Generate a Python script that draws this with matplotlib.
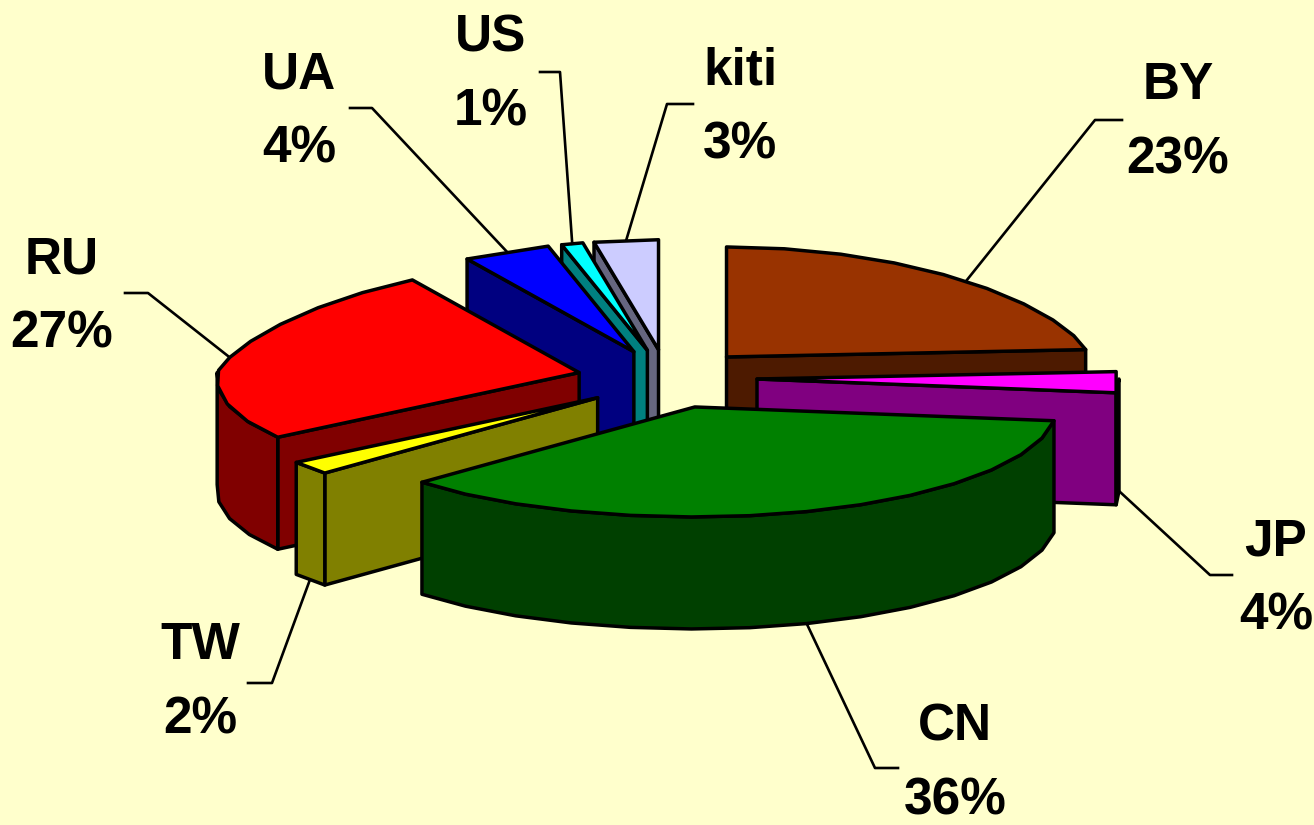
import numpy as np
import matplotlib
matplotlib.use("Agg")
import matplotlib.pyplot as plt

labels = ["BY", "JP", "CN", "TW", "RU", "UA", "US", "kiti"]
shares = [23, 4, 36, 2, 27, 4, 1, 3]
top_colors = ["#993300", "#ff00ff", "#008000", "#ffff00", "#ff0000", "#0000ff", "#00ffff", "#ccccff"]
side_colors = ["#4d1a00", "#800080", "#004000", "#808000", "#800000", "#000080", "#008080", "#666680"]

# label centres and leader elbows, in pixels
label_pos = [(1178, 123), (1276, 579), (955, 764), (200, 683), (62, 297), (299, 112), (491, 75), (740, 108)]
elbows = [(1095, 120), (1210, 575), (875, 768), (272, 683), (148, 293), (372, 108), (560, 72), (667, 104)]
elbow_ends = [(1122, 120), (1232, 575), (898, 768), (248, 683), (125, 293), (350, 108), (540, 72), (693, 104)]

cx, cy = 667, 379
rx, rx_persp = 362, 18
ry = 110
explode_x, explode_y = 90, 29.4
depth = 112
step = 9  # the arcs of the original are rather coarse polygons


def arc(a1, a2):
    n = max(int((a2 - a1) / step), 1) + 1
    a = np.radians(np.linspace(a1, a2, n))
    y = -np.cos(a)
    # left back part is a bit narrower, back is flatter than the front
    x = np.where(np.sin(a) < 0, rx + rx_persp * y, rx) * np.sin(a)
    y = np.where(y < 0, -ry * np.abs(y) ** 1.3, ry * y)
    return x, y


fig = plt.figure(figsize=(13.14, 8.25), dpi=100, facecolor="#ffffcc")
ax = fig.add_axes([0, 0, 1, 1])
ax.set_xlim(0, 1314)
ax.set_ylim(825, 0)
ax.axis("off")

edges = np.cumsum([0] + shares) * 3.6
mids = (edges[:-1] + edges[1:]) / 2
order = np.argsort(-np.cos(np.radians(mids)))

style = dict(edgecolor="black", linewidth=2.5, joinstyle="round")

for i in order:
    a1, a2 = edges[i], edges[i + 1]
    m = np.radians(mids[i])
    px = cx + explode_x * np.sin(m)
    py = cy - explode_y * np.cos(m)

    # cut faces
    for a, visible in ((a1, 180 < a1 < 360), (a2, 0 < a2 < 180)):
        if visible:
            dx, dy = arc(a, a)
            ax.fill(
                [px, px + dx[0], px + dx[0], px],
                [py, py + dy[0], py + dy[0] + depth, py + depth],
                facecolor=side_colors[i],
                **style,
            )

    # outer wall, only the front half shows
    lo, hi = max(a1, 90), min(a2, 270)
    if lo < hi:
        dx, dy = arc(lo, hi)
        ax.fill(
            np.r_[px + dx, (px + dx)[::-1]],
            np.r_[py + dy, (py + dy + depth)[::-1]],
            facecolor=side_colors[i],
            **style,
        )

    # top
    dx, dy = arc(a1, a2)
    ax.fill(np.r_[px, px + dx], np.r_[py, py + dy], facecolor=top_colors[i], **style)

# leaders and labels
for i in range(len(labels)):
    m = np.radians(mids[i])
    px = cx + explode_x * np.sin(m)
    py = cy - explode_y * np.cos(m)
    dx, dy = arc(mids[i], mids[i])
    sx, sy = px + dx[0], py + dy[0]
    if 90 <= mids[i] <= 270:
        sy += depth
    ax.plot(
        [sx, elbows[i][0], elbow_ends[i][0]],
        [sy, elbows[i][1], elbow_ends[i][1]],
        color="black",
        lw=1.9,
        zorder=1,
    )
    ax.text(
        label_pos[i][0],
        label_pos[i][1],
        f"{labels[i]}\n{shares[i]}%",
        ha="center",
        va="center",
        family="Liberation Sans",
        weight="bold",
        fontsize=37,
        linespacing=1.66,
    )

fig.savefig("out.png", dpi=100, facecolor=fig.get_facecolor())
